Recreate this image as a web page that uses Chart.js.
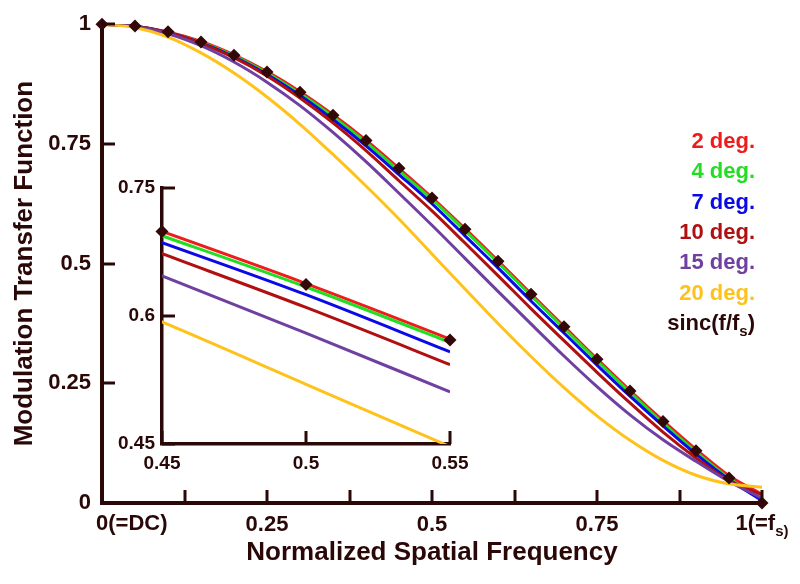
<!DOCTYPE html>
<html>
<head>
<meta charset="utf-8">
<title>MTF</title>
<script src="https://cdn.jsdelivr.net/npm/chart.js"></script>
<style>
  html, body { margin: 0; padding: 0; background: #fff; }
  #wrap { position: relative; width: 800px; height: 584px; }
  #wrap canvas { position: absolute; left: 0; top: 0; }
</style>
</head>
<body>
<div id="wrap">
  <canvas id="mtf" width="800" height="584"></canvas>
  <canvas id="zoom" width="800" height="584"></canvas>
</div>
<script>
"use strict";
// normalized spatial frequency f/fs
const freq  = [0, 0.05, 0.1, 0.15, 0.2, 0.25, 0.3, 0.35, 0.4, 0.45, 0.5, 0.55, 0.6, 0.65, 0.7, 0.75, 0.8, 0.85, 0.9, 0.95, 1];
// MTF, one list per tilt angle
const sinc  = [1, 0.996, 0.984, 0.963, 0.935, 0.900, 0.858, 0.810, 0.757, 0.699, 0.637, 0.572, 0.505, 0.436, 0.368, 0.300, 0.234, 0.170, 0.109, 0.052, 0];
const deg2  = [1, 0.996, 0.984, 0.964, 0.936, 0.901, 0.859, 0.811, 0.758, 0.699, 0.638, 0.573, 0.506, 0.437, 0.369, 0.301, 0.235, 0.172, 0.112, 0.057, 0.018];
const deg4  = [1, 0.996, 0.983, 0.962, 0.934, 0.898, 0.855, 0.807, 0.753, 0.694, 0.634, 0.569, 0.502, 0.433, 0.365, 0.297, 0.231, 0.167, 0.107, 0.052, 0.008];
const deg7  = [1, 0.996, 0.983, 0.961, 0.932, 0.895, 0.851, 0.801, 0.746, 0.686, 0.625, 0.558, 0.491, 0.422, 0.355, 0.288, 0.223, 0.161, 0.102, 0.049, 0.005];
const deg10 = [1, 0.996, 0.983, 0.960, 0.930, 0.892, 0.846, 0.794, 0.736, 0.673, 0.610, 0.543, 0.475, 0.406, 0.339, 0.273, 0.209, 0.148, 0.094, 0.047, 0.017];
const deg15 = [1, 0.995, 0.980, 0.955, 0.921, 0.879, 0.830, 0.774, 0.713, 0.647, 0.580, 0.511, 0.442, 0.374, 0.307, 0.243, 0.184, 0.132, 0.087, 0.045, 0.010];
const deg20 = [1, 0.993, 0.973, 0.940, 0.898, 0.848, 0.791, 0.728, 0.662, 0.593, 0.520, 0.447, 0.375, 0.306, 0.241, 0.182, 0.131, 0.089, 0.058, 0.040, 0.033];

const xTickVals = [0, 0.125, 0.25, 0.375, 0.5, 0.625, 0.75, 0.875, 1];
const xTickText = ['', '', '0.25', '', '0.5', '', '0.75', '', ''];
const yTickVals = [0, 0.25, 0.5, 0.75, 1];
const yTickText = ['0', '0.25', '0.5', '0.75', '1'];
const zoomXVals = [0.45, 0.5, 0.55];
const zoomXText = ['0.45', '0.5', '0.55'];
const zoomYVals = [0.45, 0.6, 0.75];
const zoomYText = ['0.45', '0.6', '0.75'];

const labels = ['2 deg.', '4 deg.', '7 deg.', '10 deg.', '15 deg.', '20 deg.'];
const curves = [deg2, deg4, deg7, deg10, deg15, deg20];
const colors = ['#ee1c1c', '#22dd22', '#0a0ae6', '#b01010', '#7040a0', '#ffc21a'];

const ink = '#2b0808';
const FONT = "'Liberation Sans', Arial, sans-serif";
Chart.defaults.font.family = FONT;
Chart.defaults.color = ink;

const pts = (ys) => freq.map((f, i) => ({ x: f, y: ys[i] }));

function lineSets() {
  // lower order is painted on top
  return curves.map((ys, i) => ({
    label: labels[i],
    data: pts(ys),
    borderColor: colors[i],
    borderWidth: 3,
    pointRadius: 0,
    fill: false,
    cubicInterpolationMode: 'monotone',
    order: 6 - i
  }));
}

function markerSet(lo, hi) {
  return {
    label: 'sinc',
    data: pts(sinc).filter(p => p.x >= lo - 1e-9 && p.x <= hi + 1e-9),
    showLine: false,
    pointStyle: 'rectRot',
    pointRadius: 6.5,
    pointBackgroundColor: '#330808',
    pointBorderWidth: 0,
    clip: false,
    order: 0
  };
}

// tick marks pointing into the plot
const inwardTicks = {
  id: 'inwardTicks',
  afterDraw(chart, args, opts) {
    const { ctx, chartArea, scales } = chart;
    ctx.save();
    ctx.strokeStyle = ink;
    ctx.lineWidth = opts.width;
    scales.x.ticks.forEach(t => {
      const px = Math.round(scales.x.getPixelForValue(t.value));
      ctx.beginPath();
      ctx.moveTo(px, chartArea.bottom);
      ctx.lineTo(px, chartArea.bottom - opts.len);
      ctx.stroke();
    });
    scales.y.ticks.forEach(t => {
      const py = Math.round(scales.y.getPixelForValue(t.value));
      ctx.beginPath();
      ctx.moveTo(chartArea.left, py);
      ctx.lineTo(chartArea.left + opts.len, py);
      ctx.stroke();
    });
    ctx.restore();
  }
};

// text with a subscript part: main + sub + tail
function subText(ctx, x, y, main, sub, tail, size, subSize, subDrop, tailSmall) {
  ctx.font = 'bold ' + size + 'px ' + FONT;
  const w1 = ctx.measureText(main).width;
  ctx.font = 'bold ' + subSize + 'px ' + FONT;
  const w2 = ctx.measureText(sub).width;
  ctx.font = 'bold ' + (tailSmall ? subSize : size) + 'px ' + FONT;
  const w3 = ctx.measureText(tail).width;
  return {
    width: w1 + w2 + w3,
    draw(x0) {
      ctx.textAlign = 'left';
      ctx.textBaseline = 'alphabetic';
      ctx.font = 'bold ' + size + 'px ' + FONT;
      ctx.fillText(main, x0, y);
      ctx.font = 'bold ' + subSize + 'px ' + FONT;
      ctx.fillText(sub, x0 + w1, y + subDrop);
      ctx.font = 'bold ' + (tailSmall ? subSize : size) + 'px ' + FONT;
      ctx.fillText(tail, x0 + w1 + w2, y + (tailSmall ? subDrop : 0));
    }
  };
}

// end labels of the x axis and the colour key
const notes = {
  id: 'notes',
  afterDraw(chart) {
    const { ctx, chartArea, scales } = chart;
    ctx.save();
    ctx.fillStyle = ink;
    const base = chartArea.bottom + 27;
    ctx.font = 'bold 22px ' + FONT;
    ctx.textAlign = 'left';
    ctx.textBaseline = 'alphabetic';
    ctx.fillText('0(=DC)', scales.x.getPixelForValue(0) - 6, base);
    const fs = subText(ctx, 0, base, '1(=f', 's', ')', 22, 15, 6, true);
    fs.draw(scales.x.getPixelForValue(1) - fs.width / 2);

    const right = 755;
    labels.forEach((t, i) => {
      ctx.fillStyle = colors[i];
      ctx.font = 'bold 22px ' + FONT;
      ctx.textAlign = 'right';
      ctx.textBaseline = 'alphabetic';
      ctx.fillText(t, right, 148 + i * 30.3);
    });
    ctx.fillStyle = ink;
    const sl = subText(ctx, 0, 148 + 6 * 30.3, 'sinc(f/f', 's', ')', 22, 15, 6, false);
    sl.draw(right - sl.width);
    ctx.restore();
  }
};

new Chart(document.getElementById('mtf'), {
  type: 'line',
  data: { datasets: [markerSet(0, 1), ...lineSets()] },
  options: {
    responsive: false,
    animation: false,
    events: [],
    layout: { padding: { top: 22, right: 38, left: 0, bottom: 0 } },
    plugins: { legend: { display: false }, tooltip: { enabled: false }, inwardTicks: { len: 13, width: 3 } },
    scales: {
      x: {
        type: 'linear', min: 0, max: 1,
        afterBuildTicks: s => { s.ticks = xTickVals.map(v => ({ value: v })); },
        afterFit: s => { s.height = 81; },
        grid: { display: false, drawTicks: false },
        border: { display: true, width: 4, color: ink },
        ticks: { autoSkip: false, maxRotation: 0, padding: 9, color: ink, font: { size: 22, weight: 'bold' },
                 callback: (v, i) => xTickText[i] },
        title: { display: true, text: 'Normalized Spatial Frequency', color: ink,
                 font: { size: 26, weight: 'bold' }, padding: { top: 0, bottom: 16 } }
      },
      y: {
        type: 'linear', min: 0, max: 1,
        afterBuildTicks: s => { s.ticks = yTickVals.map(v => ({ value: v })); },
        afterFit: s => { s.width = 102; },
        grid: { display: false, drawTicks: false },
        border: { display: true, width: 4, color: ink },
        ticks: { padding: 11, color: ink, font: { size: 22, weight: 'bold' }, callback: (v, i) => yTickText[i] },
        title: { display: true, text: 'Modulation Transfer Function', color: ink,
                 font: { size: 26, weight: 'bold' }, padding: { top: 9, bottom: 0 } }
      }
    }
  },
  plugins: [inwardTicks, notes]
});

// zoomed inset around f = 0.5
new Chart(document.getElementById('zoom'), {
  type: 'line',
  data: { datasets: [markerSet(0.45, 0.55), ...lineSets()] },
  options: {
    responsive: false,
    animation: false,
    events: [],
    layout: { padding: { top: 188, right: 350, left: 0, bottom: 0 } },
    plugins: { legend: { display: false }, tooltip: { enabled: false }, inwardTicks: { len: 13, width: 3 } },
    scales: {
      x: {
        type: 'linear', min: 0.45, max: 0.55,
        afterBuildTicks: s => { s.ticks = zoomXVals.map(v => ({ value: v })); },
        afterFit: s => { s.height = 140; },
        grid: { display: false, drawTicks: false },
        border: { display: true, width: 3.5, color: ink },
        ticks: { autoSkip: false, maxRotation: 0, padding: 8, color: ink, font: { size: 19, weight: 'bold' },
                 callback: (v, i) => zoomXText[i] }
      },
      y: {
        type: 'linear', min: 0.45, max: 0.75,
        afterBuildTicks: s => { s.ticks = zoomYVals.map(v => ({ value: v })); },
        afterFit: s => { s.width = 162; },
        grid: { display: false, drawTicks: false },
        border: { display: true, width: 3.5, color: ink },
        ticks: { padding: 7, color: ink, font: { size: 19, weight: 'bold' }, callback: (v, i) => zoomYText[i] }
      }
    }
  },
  plugins: [inwardTicks]
});
</script>
</body>
</html>
